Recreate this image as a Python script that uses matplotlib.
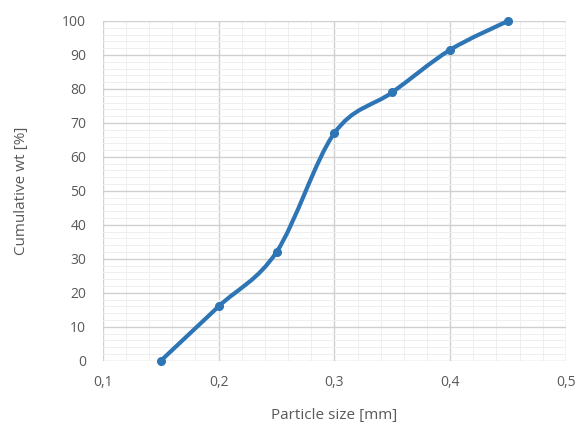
import numpy as np
import matplotlib.pyplot as plt
from matplotlib.path import Path
from matplotlib.patches import PathPatch
from matplotlib.ticker import MultipleLocator, FuncFormatter

# particle size distribution
size_mm = [0.15, 0.20, 0.25, 0.30, 0.35, 0.40, 0.45]
cum_wt = [0, 16, 32, 67, 79, 91.5, 100]

blue = '#2E75B6'
txt = '#595959'

plt.rcParams['font.family'] = ['Open Sans', 'DejaVu Sans']

fig = plt.figure(figsize=(5.78, 4.28), dpi=100)
ax = fig.add_axes([0.178, 0.157, 0.801, 0.794])

# smoothed line like a spreadsheet "smooth line" (cardinal bezier through the points)
pts = np.column_stack([size_mm, cum_wt])
verts = [pts[0]]
codes = [Path.MOVETO]
n = len(pts)
for i in range(n - 1):
    p0 = pts[max(i - 1, 0)]
    p1 = pts[i]
    p2 = pts[i + 1]
    p3 = pts[min(i + 2, n - 1)]
    c1 = p1 + (p2 - p0) / 6
    c2 = p2 - (p3 - p1) / 6
    verts += [c1, c2, p2]
    codes += [Path.CURVE4] * 3
ax.add_patch(PathPatch(Path(verts, codes), facecolor='none', edgecolor=blue,
                       lw=3, capstyle='round', joinstyle='round', zorder=3,
                       clip_on=False))
ax.plot(size_mm, cum_wt, 'o', color=blue, ms=5.5, zorder=4, clip_on=False)

ax.set_xlim(0.1, 0.5)
ax.set_ylim(0, 100)
ax.xaxis.set_major_locator(MultipleLocator(0.1))
ax.xaxis.set_minor_locator(MultipleLocator(0.02))
ax.yaxis.set_major_locator(MultipleLocator(10))
ax.yaxis.set_minor_locator(MultipleLocator(2))
ax.xaxis.set_major_formatter(FuncFormatter(lambda v, p: f'{v:.1f}'.replace('.', ',')))

ax.grid(which='major', color='#D0D0D0', lw=1)
ax.grid(which='minor', color='#EFEFEF', lw=0.7)
ax.set_axisbelow(True)
for s in ax.spines.values():
    s.set_visible(False)
ax.tick_params(which='both', length=0, colors=txt, labelsize=10)
ax.tick_params(axis='x', pad=10)
ax.tick_params(axis='y', pad=12)

ax.set_xlabel('Particle size [mm]', color=txt, fontsize=11, labelpad=13)
ax.set_ylabel('Cumulative wt [%]', color=txt, fontsize=11, labelpad=24)

fig.savefig('out.png', dpi=100)
